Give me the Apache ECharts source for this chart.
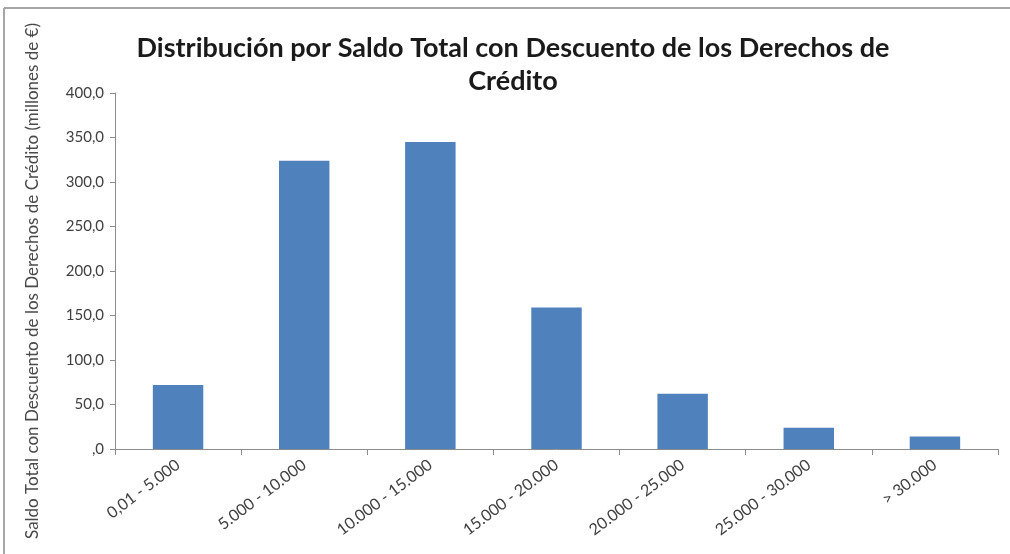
<!DOCTYPE html>
<html>
<head>
<meta charset="utf-8">
<script src="https://cdn.jsdelivr.net/npm/echarts@6/dist/echarts.min.js"></script>
<style>
html,body{margin:0;padding:0;background:#fff;}
#chart{width:1010px;height:554px;}
</style>
</head>
<body>
<div id="chart"></div>
<script>
var categories = ['0,01 - 5.000', '5.000 - 10.000', '10.000 - 15.000', '15.000 - 20.000', '20.000 - 25.000', '25.000 - 30.000', '> 30.000'];
var values = [72, 324, 345, 159, 62, 24, 14];
var yTicks = { min: 0, max: 400, interval: 50 };
var titleText = 'Distribución por Saldo Total con Descuento de los Derechos de\nCrédito';
var yName = 'Saldo Total con Descuento de los Derechos de Crédito (millones de €)';

var chart = echarts.init(document.getElementById('chart'), null, { renderer: 'canvas' });
var font = 'Lato, "Open Sans", sans-serif';
chart.setOption({
  animation: false,
  backgroundColor: '#ffffff',
  title: {
    text: titleText,
    left: 508,
    top: 27,
    textAlign: 'center',
    textStyle: { fontFamily: font, fontSize: 27, fontWeight: 'bold', color: '#1a1a1a', lineHeight: 33 }
  },
  grid: { left: 115, right: 12, top: 93, bottom: 105, containLabel: false },
  xAxis: {
    type: 'category',
    data: categories,
    axisLine: { lineStyle: { color: '#8c8c8c', width: 1 } },
    axisTick: { show: true, length: 6, lineStyle: { color: '#8c8c8c' } },
    axisLabel: { rotate: 37, margin: 14, fontFamily: font, fontSize: 16, color: '#404040', interval: 0 }
  },
  yAxis: {
    type: 'value',
    min: yTicks.min, max: yTicks.max, interval: yTicks.interval,
    splitLine: { show: false },
    axisLine: { show: true, lineStyle: { color: '#8c8c8c', width: 1 } },
    axisTick: { show: true, length: 5, lineStyle: { color: '#8c8c8c' } },
    axisLabel: {
      margin: 11, fontFamily: font, fontSize: 15, color: '#404040',
      formatter: function (v) { return v === 0 ? ',0' : v.toFixed(1).replace('.', ','); }
    }
  },
  series: [{
    type: 'bar',
    data: values,
    barWidth: '40%',
    itemStyle: { color: '#4F81BD' }
  }],
  graphic: [
    { type: 'line', shape: { x1: 4, y1: 8, x2: 1010, y2: 8 }, style: { stroke: '#a6a6a6', lineWidth: 2 } },
    { type: 'line', shape: { x1: 4, y1: 8, x2: 4, y2: 554 }, style: { stroke: '#a6a6a6', lineWidth: 2 } },
    { type: 'text', x: 33, y: 281, rotation: Math.PI / 2,
      style: { text: yName, font: '17px ' + font, fill: '#4a4a4a', align: 'center', verticalAlign: 'middle' } }
  ]
});
</script>
</body>
</html>
